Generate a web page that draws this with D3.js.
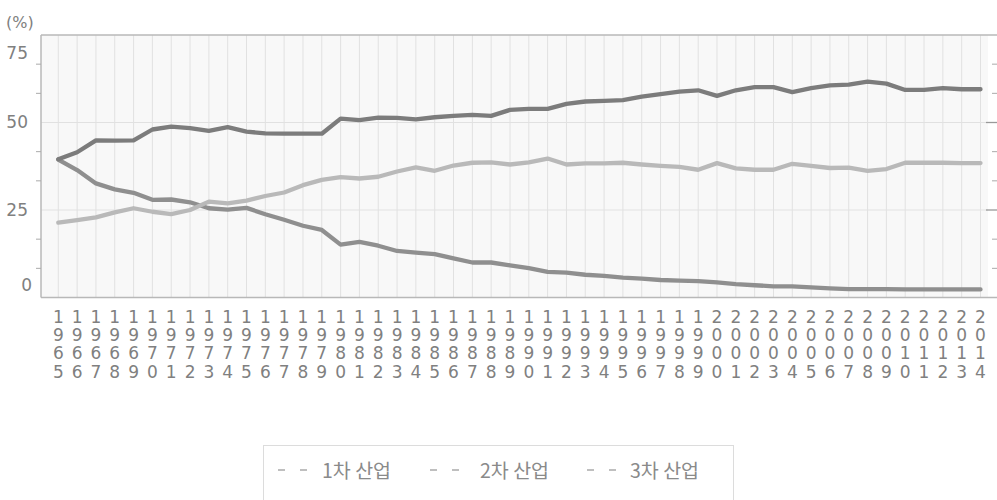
<!DOCTYPE html>
<html>
<head>
<meta charset="utf-8">
<script src="https://cdn.jsdelivr.net/npm/d3@7"></script>
<style>
body { margin: 0; background: #fff; }
text { font-family: "DejaVu Sans", "Noto Sans CJK KR", sans-serif; fill: #808080; }
</style>
</head>
<body>
<div id="chart"></div>
<script>
// data (share of each industry, %)
let years = [1965,1966,1967,1968,1969,1970,1971,1972,1973,1974,
             1975,1976,1977,1978,1979,1980,1981,1982,1983,1984,
             1985,1986,1987,1988,1989,1990,1991,1992,1993,1994,
             1995,1996,1997,1998,1999,2000,2001,2002,2003,2004,
             2005,2006,2007,2008,2009,2010,2011,2012,2013,2014];

let primary = [39.4,36.4,32.6,30.9,29.9,27.9,28.0,27.2,25.5,25.1,
               25.6,23.8,22.2,20.5,19.3,15.1,15.9,14.8,13.3,12.8,
               12.4,11.2,10.0,10.0,9.2,8.4,7.3,7.1,6.5,6.2,
               5.7,5.4,5.0,4.8,4.7,4.3,3.8,3.5,3.2,3.2,
               2.9,2.6,2.4,2.4,2.4,2.3,2.3,2.3,2.3,2.3];

let secondary = [21.4,22.1,22.9,24.3,25.5,24.5,23.8,25.0,27.4,26.9,
                 27.7,29.0,30.0,32.1,33.6,34.4,34.0,34.5,36.0,37.2,
                 36.2,37.7,38.5,38.6,38.0,38.6,39.7,38.0,38.3,38.3,
                 38.5,38.0,37.6,37.3,36.5,38.4,36.9,36.5,36.5,38.2,
                 37.6,37.0,37.1,36.2,36.7,38.5,38.5,38.5,38.4,38.4];

let tertiary = [39.5,41.5,44.9,44.8,44.9,48.0,48.8,48.4,47.6,48.7,
                47.4,46.9,46.8,46.8,46.8,51.1,50.7,51.4,51.3,50.9,
                51.5,51.9,52.2,51.9,53.6,53.9,53.9,55.3,56.0,56.2,
                56.4,57.4,58.1,58.8,59.2,57.6,59.2,60.1,60.1,58.7,
                59.8,60.6,60.8,61.7,61.1,59.3,59.3,59.8,59.5,59.5];

let seriesNames = ["1차 산업", "2차 산업", "3차 산업"];
let seriesColors = ["#8f8f8f", "#b9b9b9", "#7c7c7c"];
let yTicks = [0, 25, 50, 75];
let yMinor = [25/3, 50/3, 100/3, 125/3, 175/3, 200/3];

let width = 997, height = 500;
let plotLeft = 41, plotRight = 988, plotTop = 35, plotBottom = 297.5;

let svg = d3.select("#chart")
  .append("svg")
  .attr("width", width)
  .attr("height", height);

let x = d3.scalePoint()
  .domain(years)
  .range([58.3, 980.5]);

let y = d3.scaleLinear()
  .domain([0, 75])
  .range([plotBottom, plotTop]);

// plot background
svg.append("rect")
  .attr("x", plotLeft)
  .attr("y", plotTop)
  .attr("width", plotRight - plotLeft)
  .attr("height", plotBottom - plotTop)
  .attr("fill", "#f8f8f8");

// vertical grid, one per year
svg.append("g")
  .selectAll("line")
  .data(years)
  .enter()
  .append("line")
  .attr("x1", d => x(d)).attr("x2", d => x(d))
  .attr("y1", plotTop).attr("y2", plotBottom)
  .attr("stroke", "#e1e1e1")
  .attr("stroke-width", 1);

// horizontal grid
svg.append("g")
  .selectAll("line")
  .data([25, 50])
  .enter()
  .append("line")
  .attr("x1", plotLeft).attr("x2", plotRight)
  .attr("y1", d => y(d)).attr("y2", d => y(d))
  .attr("stroke", "#e1e1e1")
  .attr("stroke-width", 1.2);

// frame: top, bottom, left
svg.append("line")
  .attr("x1", plotLeft).attr("x2", width)
  .attr("y1", plotTop).attr("y2", plotTop)
  .attr("stroke", "#b8b8b8").attr("stroke-width", 1.5);
svg.append("line")
  .attr("x1", plotLeft).attr("x2", width)
  .attr("y1", plotBottom).attr("y2", plotBottom)
  .attr("stroke", "#b8b8b8").attr("stroke-width", 1.5);
svg.append("line")
  .attr("x1", plotLeft).attr("x2", plotLeft)
  .attr("y1", plotTop).attr("y2", plotBottom)
  .attr("stroke", "#b8b8b8").attr("stroke-width", 1.5);

// minor ticks, both sides
svg.append("g")
  .selectAll("line")
  .data(yMinor)
  .enter()
  .append("line")
  .attr("x1", plotLeft - 5).attr("x2", plotLeft)
  .attr("y1", d => y(d)).attr("y2", d => y(d))
  .attr("stroke", "#aaa");
svg.append("g")
  .selectAll("line")
  .data(yMinor)
  .enter()
  .append("line")
  .attr("x1", 992).attr("x2", width)
  .attr("y1", d => y(d)).attr("y2", d => y(d))
  .attr("stroke", "#aaa");
// major ticks on the right
svg.append("g")
  .selectAll("line")
  .data([25, 50])
  .enter()
  .append("line")
  .attr("x1", 986).attr("x2", width)
  .attr("y1", d => y(d)).attr("y2", d => y(d))
  .attr("stroke", "#999").attr("stroke-width", 1.3);

// y labels (end labels pulled inside the frame)
svg.append("g")
  .selectAll("text")
  .data(yTicks)
  .enter()
  .append("text")
  .attr("x", d => d === 0 ? 32 : 28)
  .attr("y", function(d) {
    if (d === 75) return y(d) + 18;
    if (d === 0) return y(d) - 12;
    return y(d);
  })
  .attr("dy", "0.35em")
  .attr("text-anchor", "end")
  .style("font-size", "17px")
  .text(d => d);

svg.append("text")
  .attr("x", 6)
  .attr("y", 28)
  .style("font-size", "16px")
  .text("(%)");

// x labels: year digits stacked
let xLabels = svg.append("g")
  .selectAll("text")
  .data(years)
  .enter()
  .append("text")
  .attr("text-anchor", "middle")
  .style("font-size", "17px");

xLabels.selectAll("tspan")
  .data(d => String(d).split("").map(c => ({ c: c, yr: d })))
  .enter()
  .append("tspan")
  .attr("x", d => x(d.yr))
  .attr("y", (d, i) => 323 + i * 18.2)
  .text(d => d.c);

// lines
let line = d3.line()
  .x((d, i) => x(years[i]))
  .y(d => y(d));

let allSeries = [primary, secondary, tertiary];
svg.append("g")
  .selectAll("path")
  .data(allSeries)
  .enter()
  .append("path")
  .attr("d", line)
  .attr("fill", "none")
  .attr("stroke", (d, i) => seriesColors[i])
  .attr("stroke-width", 4.3)
  .attr("stroke-linejoin", "round")
  .attr("stroke-linecap", "round");

// legend
let legend = svg.append("g");
legend.append("rect")
  .attr("x", 263.5).attr("y", 445.5)
  .attr("width", 470).attr("height", 60)
  .attr("fill", "#fff")
  .attr("stroke", "#dcdcdc");

let dashX = [278, 430, 587];
let labelX = [322, 480, 630];

legend.selectAll("line")
  .data(seriesNames)
  .enter()
  .append("line")
  .attr("x1", (d, i) => dashX[i]).attr("x2", (d, i) => dashX[i] + 31)
  .attr("y1", 470).attr("y2", 470)
  .attr("stroke", "#aaa")
  .attr("stroke-width", 1.5)
  .attr("stroke-dasharray", "7,15");

legend.selectAll("text")
  .data(seriesNames)
  .enter()
  .append("text")
  .attr("x", (d, i) => labelX[i])
  .attr("y", 471)
  .attr("dy", "0.35em")
  .style("font-size", "19.5px")
  .style("font-family", "'Noto Sans CJK KR', sans-serif")
  .style("fill", "#8a8a8a")
  .text(d => d);
</script>
</body>
</html>
